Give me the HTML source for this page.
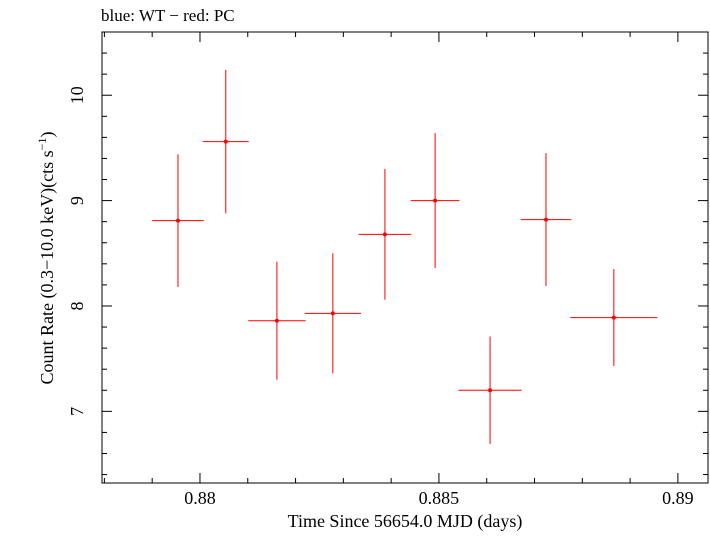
<!DOCTYPE html>
<html><head><meta charset="utf-8"><style>
body{margin:0;background:#fff}
svg text{font-family:"Liberation Serif",serif;fill:#000}
</style></head><body>
<svg width="710" height="532" xmlns="http://www.w3.org/2000/svg">
<text x="101" y="21" font-size="17">blue: WT − red: PC</text>
<rect x="102" y="32" width="606" height="451" fill="none" stroke="#000" stroke-width="1"/>
<g id="axes"></g>
<g id="marks"></g>
<text x="405" y="527" font-size="18" text-anchor="middle">Time Since 56654.0 MJD (days)</text>
<text transform="translate(53,258) rotate(-90)" font-size="18" text-anchor="middle">Count Rate (0.3−10.0 keV)(cts s<tspan dy="-7" font-size="12">−1</tspan><tspan dy="7">)</tspan></text>
</svg>
<script>
const times=[0.87954,0.88054,0.88161,0.88278,0.88387,0.88492,0.88607,0.88724,0.88866];
const timeErr=[0.00054,0.00048,0.0006,0.00059,0.00055,0.00051,0.00066,0.00053,0.00091];
const rates=[8.81,9.56,7.86,7.93,8.68,9.00,7.20,8.82,7.89];
const rateErr=[0.63,0.68,0.56,0.57,0.62,0.64,0.51,0.63,0.46];
const xTicks=[0.88,0.885,0.89];
const xTickLabels=["0.88","0.885","0.89"];
const yTicks=[7,8,9,10];
const yTickLabels=["7","8","9","10"];
const X0=102,X1=708,Y0=483,Y1=32,xmin=0.87795,xmax=0.89063,ymin=6.32,ymax=10.6;
const sx=v=>X0+(v-xmin)/(xmax-xmin)*(X1-X0);
const sy=v=>Y0-(v-ymin)/(ymax-ymin)*(Y0-Y1);
const NS="http://www.w3.org/2000/svg";
const axes=document.getElementById('axes'),marks=document.getElementById('marks');
function line(p,x1,y1,x2,y2,c,n){const l=document.createElementNS(NS,'line');l.setAttribute('x1',x1);l.setAttribute('y1',y1);l.setAttribute('x2',x2);l.setAttribute('y2',y2);l.setAttribute('stroke',c);l.setAttribute('stroke-width',1);


p.appendChild(l);}
function text(x,y,s,anchor,n){const t=document.createElementNS(NS,'text');t.setAttribute('x',x);t.setAttribute('y',y);t.setAttribute('font-size',18);t.setAttribute('text-anchor',anchor);t.textContent=s;


axes.appendChild(t);}
for(let v=0.878;v<=0.8906;v+=0.001){const x=sx(v);if(x<X0||x>X1)continue;const maj=Math.abs(Math.round(v*200)-v*200)<1e-6;const L=maj?10:5;line(axes,x,Y0,x,Y0-L,'#000','x-tick');line(axes,x,Y1,x,Y1+L,'#000','x-tick-top');}
for(let v=6.4;v<=10.6;v+=0.2){const y=sy(v);if(y<Y1||y>Y0)continue;const maj=Math.abs(Math.round(v)-v)<1e-6;const L=maj?10:5;line(axes,X0,y,X0+L,y,'#000','y-tick');line(axes,X1,y,X1-L,y,'#000','y-tick-right');}
xTicks.forEach((v,i)=>text(sx(v),504,xTickLabels[i],'middle','x-tick-label'));
yTicks.forEach((v,i)=>{const t=document.createElementNS(NS,'text');t.setAttribute('transform',`translate(83,${sy(v)}) rotate(-90)`);t.setAttribute('font-size',18);t.setAttribute('text-anchor','middle');t.textContent=yTickLabels[i];


axes.appendChild(t);});
times.forEach((t,i)=>{const x=sx(t),y=sy(rates[i]);
line(marks,sx(t-timeErr[i]),y,sx(t+timeErr[i]),y,'#f00','x-error-bar');
line(marks,x,sy(rates[i]-rateErr[i]),x,sy(rates[i]+rateErr[i]),'#f00','y-error-bar');
const c=document.createElementNS(NS,'circle');c.setAttribute('cx',x);c.setAttribute('cy',y);c.setAttribute('r',2);c.setAttribute('fill','#f00');


marks.appendChild(c);});
</script>
</body></html>
